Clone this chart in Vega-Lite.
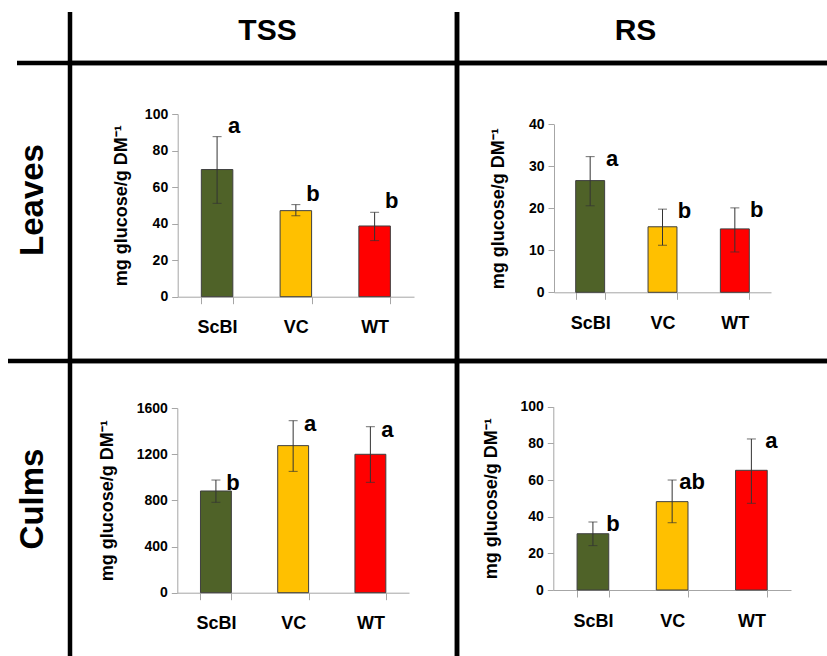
{
  "$schema": "https://vega.github.io/schema/vega-lite/v6.json",
  "background": "white",
  "padding": {"left": 5, "top": 9, "right": 0, "bottom": 0},
  "columns": 3,
  "spacing": 0,
  "bounds": "flush",
  "config": {
    "font": "Liberation Sans",
    "view": {"stroke": null},
    "axis": {
      "grid": false,
      "domainColor": "#a6a6a6",
      "tickColor": "#a6a6a6",
      "labelColor": "black",
      "titleColor": "black",
      "labelFont": "Liberation Sans",
      "titleFont": "Liberation Sans",
      "labelFontWeight": "bold",
      "titleFontWeight": "bold"
    },
    "axisX": {"labelFontSize": 18, "tickSize": 7, "tickBand": "extent", "labelPadding": 15, "labelAngle": 0},
    "axisY": {"labelFontSize": 14, "tickSize": 6, "labelPadding": 4, "titleFontSize": 18, "format": "d"}
  },
  "datasets": {
    "labels": [
      {"kind": "col", "label": "TSS"},
      {"kind": "col", "label": "RS"},
      {"kind": "row", "label": "Leaves"},
      {"kind": "row", "label": "Culms"}
    ],
    "sugar": [
      {"tissue": "Leaves", "sugar": "TSS", "genotype": "ScBI", "mean": 69.6, "lo": 51.1, "hi": 87.6, "letter": "a"},
      {"tissue": "Leaves", "sugar": "TSS", "genotype": "VC", "mean": 47.1, "lo": 44.3, "hi": 50.4, "letter": "b"},
      {"tissue": "Leaves", "sugar": "TSS", "genotype": "WT", "mean": 38.7, "lo": 30.7, "hi": 46.2, "letter": "b"},
      {"tissue": "Leaves", "sugar": "RS", "genotype": "ScBI", "mean": 26.6, "lo": 20.6, "hi": 32.3, "letter": "a"},
      {"tissue": "Leaves", "sugar": "RS", "genotype": "VC", "mean": 15.6, "lo": 11.2, "hi": 19.8, "letter": "b"},
      {"tissue": "Leaves", "sugar": "RS", "genotype": "WT", "mean": 15.1, "lo": 9.6, "hi": 20.1, "letter": "b"},
      {"tissue": "Culms", "sugar": "TSS", "genotype": "ScBI", "mean": 881, "lo": 783, "hi": 976, "letter": "b"},
      {"tissue": "Culms", "sugar": "TSS", "genotype": "VC", "mean": 1274, "lo": 1051, "hi": 1490, "letter": "a"},
      {"tissue": "Culms", "sugar": "TSS", "genotype": "WT", "mean": 1199, "lo": 956, "hi": 1438, "letter": "a"},
      {"tissue": "Culms", "sugar": "RS", "genotype": "ScBI", "mean": 30.7, "lo": 24.2, "hi": 37.1, "letter": "b"},
      {"tissue": "Culms", "sugar": "RS", "genotype": "VC", "mean": 48.2, "lo": 36.7, "hi": 60.0, "letter": "ab"},
      {"tissue": "Culms", "sugar": "RS", "genotype": "WT", "mean": 65.3, "lo": 47.3, "hi": 82.4, "letter": "a"}
    ]
  },
  "concat": [
    {
      "width": 62, "height": 51,
      "data": {"name": "labels"},
      "transform": [{"filter": "datum.kind === 'none'"}],
      "mark": {"type": "text"},
      "encoding": {"text": {"field": "label"}}
    },
    {
      "width": 387, "height": 51,
      "view": {"stroke": "black", "strokeWidth": 4.5, "strokeDash": [0, 387, 489]},
      "data": {"name": "labels"},
      "transform": [{"filter": "datum.label === 'TSS'"}],
      "mark": {"type": "text", "fontSize": 30, "fontWeight": "bold", "baseline": "alphabetic", "align": "center", "dx": 4, "dy": 2, "color": "black"},
      "encoding": {"text": {"field": "label"}}
    },
    {
      "width": 375, "height": 51,
      "view": {"stroke": "black", "strokeWidth": 4.5, "strokeDash": [0, 375, 477]},
      "data": {"name": "labels"},
      "transform": [{"filter": "datum.label === 'RS'"}],
      "mark": {"type": "text", "fontSize": 30, "fontWeight": "bold", "baseline": "alphabetic", "align": "center", "dx": -9, "dy": 2, "color": "black"},
      "encoding": {"text": {"field": "label"}}
    },
    {
      "width": 62, "height": 298,
      "view": {"stroke": "black", "strokeWidth": 4.5, "strokeDash": [0, 9, 53, 658]},
      "data": {"name": "labels"},
      "transform": [{"filter": "datum.label === 'Leaves'"}],
      "mark": {"type": "text", "fontSize": 33, "fontWeight": "bold", "angle": 270, "baseline": "alphabetic", "align": "center", "dx": 12, "dy": 4, "color": "black"},
      "encoding": {"text": {"field": "label"}}
    },
    {
      "width": 387, "height": 298,
      "view": {"stroke": "black", "strokeWidth": 4.5},
      "data": {"name": "sugar"},
      "transform": [{"filter": "datum.tissue === 'Leaves' && datum.sugar === 'TSS'"}],
      "encoding": {
        "x": {"field": "genotype", "type": "nominal", "sort": ["ScBI", "VC", "WT"], "title": null,
              "scale": {"range": [107.7, 344], "paddingInner": 0.6, "paddingOuter": 0.3},
              "axis": {"offset": -64.3}}
      },
      "layer": [
        {
          "mark": {"type": "bar", "stroke": "#3f3f3f", "strokeWidth": 1},
          "encoding": {
            "y": {"field": "mean", "type": "quantitative", "title": "mg glucose/g DM⁻¹",
                  "scale": {"domain": [0, 100], "range": [233.7, 51], "nice": false},
                  "axis": {"values": [0, 20, 40, 60, 80, 100], "offset": -107.7, "titlePadding": 14}},
            "color": {"field": "genotype", "type": "nominal", "legend": null,
                      "scale": {"domain": ["ScBI", "VC", "WT"], "range": ["#4F6228", "#FFC000", "#FF0000"]}}
          }
        },
        {
          "mark": {"type": "errorbar", "ticks": {"size": 9, "color": "#333333"}, "rule": {"color": "#333333", "strokeWidth": 1}},
          "encoding": {
            "y": {"field": "lo", "type": "quantitative", "title": "mg glucose/g DM⁻¹"},
            "y2": {"field": "hi"}
          }
        },
        {
          "mark": {"type": "text", "fontSize": 22, "fontWeight": "bold", "baseline": "alphabetic", "align": "center", "dx": 17, "dy": -4, "color": "black"},
          "encoding": {
            "y": {"field": "hi", "type": "quantitative", "title": "mg glucose/g DM⁻¹"},
            "text": {"field": "letter"}
          }
        }
      ]
    },
    {
      "width": 375, "height": 298,
      "view": {"stroke": "black", "strokeWidth": 4.5},
      "data": {"name": "sugar"},
      "transform": [{"filter": "datum.tissue === 'Leaves' && datum.sugar === 'RS'"}],
      "encoding": {
        "x": {"field": "genotype", "type": "nominal", "sort": ["ScBI", "VC", "WT"], "title": null,
              "scale": {"range": [97, 314], "paddingInner": 0.6, "paddingOuter": 0.3},
              "axis": {"offset": -68.7}}
      },
      "layer": [
        {
          "mark": {"type": "bar", "stroke": "#3f3f3f", "strokeWidth": 1},
          "encoding": {
            "y": {"field": "mean", "type": "quantitative", "title": "mg glucose/g DM⁻¹",
                  "scale": {"domain": [0, 40], "range": [229.3, 61.3], "nice": false},
                  "axis": {"values": [0, 10, 20, 30, 40], "offset": -97, "titlePadding": 21}},
            "color": {"field": "genotype", "type": "nominal", "legend": null,
                      "scale": {"domain": ["ScBI", "VC", "WT"], "range": ["#4F6228", "#FFC000", "#FF0000"]}}
          }
        },
        {
          "mark": {"type": "errorbar", "ticks": {"size": 9, "color": "#333333"}, "rule": {"color": "#333333", "strokeWidth": 1}},
          "encoding": {
            "y": {"field": "lo", "type": "quantitative", "title": "mg glucose/g DM⁻¹"},
            "y2": {"field": "hi"}
          }
        },
        {
          "mark": {"type": "text", "fontSize": 22, "fontWeight": "bold", "baseline": "alphabetic", "align": "center", "dx": 22, "dy": 9, "color": "black"},
          "encoding": {
            "y": {"field": "hi", "type": "quantitative", "title": "mg glucose/g DM⁻¹"},
            "text": {"field": "letter"}
          }
        }
      ]
    },
    {
      "width": 62, "height": 300,
      "view": {"stroke": "black", "strokeWidth": 4.5, "strokeDash": [62, 662]},
      "data": {"name": "labels"},
      "transform": [{"filter": "datum.label === 'Culms'"}],
      "mark": {"type": "text", "fontSize": 33, "fontWeight": "bold", "angle": 270, "baseline": "alphabetic", "align": "center", "dx": 12, "dy": 4, "color": "black"},
      "encoding": {"text": {"field": "label"}}
    },
    {
      "width": 387, "height": 300,
      "view": {"stroke": "black", "strokeWidth": 4.5},
      "data": {"name": "sugar"},
      "transform": [{"filter": "datum.tissue === 'Culms' && datum.sugar === 'TSS'"}],
      "encoding": {
        "x": {"field": "genotype", "type": "nominal", "sort": ["ScBI", "VC", "WT"], "title": null,
              "scale": {"range": [107.3, 339], "paddingInner": 0.6, "paddingOuter": 0.3},
              "axis": {"offset": -68.3}}
      },
      "layer": [
        {
          "mark": {"type": "bar", "stroke": "#3f3f3f", "strokeWidth": 1},
          "encoding": {
            "y": {"field": "mean", "type": "quantitative", "title": "mg glucose/g DM⁻¹",
                  "scale": {"domain": [0, 1600], "range": [231.7, 47], "nice": false},
                  "axis": {"values": [0, 400, 800, 1200, 1600], "offset": -107.3, "titlePadding": 19.5, "format": "d"}},
            "color": {"field": "genotype", "type": "nominal", "legend": null,
                      "scale": {"domain": ["ScBI", "VC", "WT"], "range": ["#4F6228", "#FFC000", "#FF0000"]}}
          }
        },
        {
          "mark": {"type": "errorbar", "ticks": {"size": 9, "color": "#333333"}, "rule": {"color": "#333333", "strokeWidth": 1}},
          "encoding": {
            "y": {"field": "lo", "type": "quantitative", "title": "mg glucose/g DM⁻¹"},
            "y2": {"field": "hi"}
          }
        },
        {
          "mark": {"type": "text", "fontSize": 22, "fontWeight": "bold", "baseline": "alphabetic", "align": "center", "dx": 17, "dy": 10, "color": "black"},
          "encoding": {
            "y": {"field": "hi", "type": "quantitative", "title": "mg glucose/g DM⁻¹"},
            "text": {"field": "letter"}
          }
        }
      ]
    },
    {
      "width": 375, "height": 300,
      "view": {"stroke": "black", "strokeWidth": 4.5},
      "data": {"name": "sugar"},
      "transform": [{"filter": "datum.tissue === 'Culms' && datum.sugar === 'RS'"}],
      "encoding": {
        "x": {"field": "genotype", "type": "nominal", "sort": ["ScBI", "VC", "WT"], "title": null,
              "scale": {"range": [96.3, 334], "paddingInner": 0.6, "paddingOuter": 0.3},
              "axis": {"offset": -71}}
      },
      "layer": [
        {
          "mark": {"type": "bar", "stroke": "#3f3f3f", "strokeWidth": 1},
          "encoding": {
            "y": {"field": "mean", "type": "quantitative", "title": "mg glucose/g DM⁻¹",
                  "scale": {"domain": [0, 100], "range": [229, 45.7], "nice": false},
                  "axis": {"values": [0, 20, 40, 60, 80, 100], "offset": -96.3, "titlePadding": 19}},
            "color": {"field": "genotype", "type": "nominal", "legend": null,
                      "scale": {"domain": ["ScBI", "VC", "WT"], "range": ["#4F6228", "#FFC000", "#FF0000"]}}
          }
        },
        {
          "mark": {"type": "errorbar", "ticks": {"size": 9, "color": "#333333"}, "rule": {"color": "#333333", "strokeWidth": 1}},
          "encoding": {
            "y": {"field": "lo", "type": "quantitative", "title": "mg glucose/g DM⁻¹"},
            "y2": {"field": "hi"}
          }
        },
        {
          "mark": {"type": "text", "fontSize": 22, "fontWeight": "bold", "baseline": "alphabetic", "align": "center", "dx": 20, "dy": 9, "color": "black"},
          "encoding": {
            "y": {"field": "hi", "type": "quantitative", "title": "mg glucose/g DM⁻¹"},
            "text": {"field": "letter"}
          }
        }
      ]
    }
  ]
}
